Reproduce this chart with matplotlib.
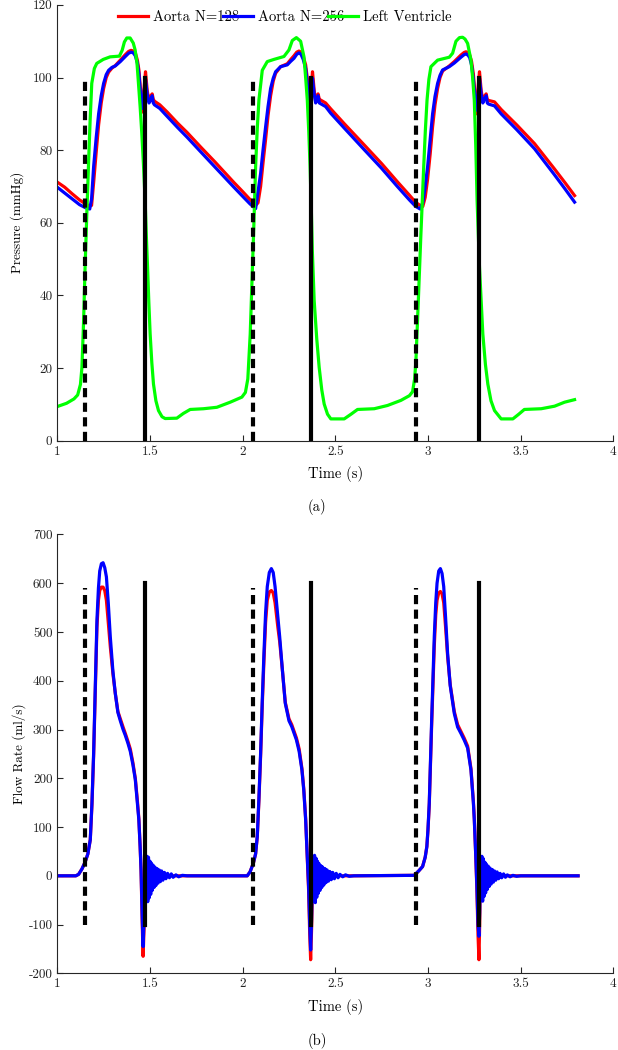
import matplotlib
matplotlib.use("Agg")
import matplotlib.pyplot as plt
from matplotlib.ticker import FuncFormatter, MultipleLocator

plt.rcParams['font.family'] = ['cmr10', 'DejaVu Serif']
plt.rcParams['mathtext.fontset'] = 'cm'
plt.rcParams['axes.unicode_minus'] = False
plt.rcParams['axes.formatter.use_mathtext'] = True

# ---- pressure data ----
t_ao = [1.00, 1.04, 1.08, 1.12, 1.15, 1.175, 1.185, 1.196, 1.21, 1.223, 1.237, 1.25,
        1.264, 1.277, 1.295, 1.313, 1.34, 1.367, 1.385, 1.398, 1.41, 1.421, 1.432,
        1.44, 1.452, 1.46, 1.468, 1.476, 1.485, 1.495, 1.505, 1.512, 1.518, 1.524,
        1.553, 1.593, 1.65, 1.70, 1.773, 1.85, 1.953, 2.00, 2.04, 2.07,
        2.083, 2.097, 2.11, 2.124, 2.137, 2.151, 2.165, 2.178, 2.205, 2.241, 2.26,
        2.277, 2.292, 2.304, 2.315, 2.327, 2.34, 2.352, 2.362, 2.37, 2.377, 2.386,
        2.394, 2.401, 2.407, 2.414, 2.421, 2.448, 2.475, 2.55, 2.655, 2.75, 2.835,
        2.90, 2.934, 2.958,
        2.972, 2.985, 2.998, 3.012, 3.025, 3.038, 3.052, 3.065, 3.079, 3.115, 3.142,
        3.178, 3.195, 3.205, 3.215, 3.225, 3.235, 3.245, 3.256, 3.264, 3.271, 3.278,
        3.287, 3.296, 3.304, 3.314, 3.32, 3.327, 3.359, 3.395, 3.48, 3.575, 3.68,
        3.74, 3.791]
p_n256 = [69.8, 68.2, 66.6, 65.0, 64.2, 63.8, 66.5, 75.4, 83.5, 90.0, 95.0, 98.4,
          100.8, 102.0, 102.8, 103.2, 104.4, 105.8, 106.7, 107.0, 106.8, 106.0, 104.0,
          101.2, 93.8, 91.5, 96.0, 99.5, 95.5, 93.0, 94.0, 95.0, 93.0, 92.5,
          91.5, 89.3, 86.2, 83.6, 79.6, 75.4, 69.8, 67.3, 65.2, 63.9,
          68.5, 73.6, 80.0, 86.4, 92.0, 97.0, 99.8, 101.6, 103.0, 103.5, 104.5,
          105.3, 106.4, 106.8, 106.4, 105.0, 102.5, 97.0, 92.0, 95.5, 99.8, 95.5,
          93.0, 94.0, 95.0, 93.0, 92.8, 92.0, 90.2, 86.0, 80.2, 75.0, 70.0,
          66.3, 64.5, 63.8,
          65.5, 70.0, 75.4, 83.0, 90.0, 94.8, 98.4, 100.6, 102.1, 103.0, 104.0,
          105.6, 106.3, 106.5, 106.2, 105.5, 103.5, 99.5, 93.0, 91.0, 96.0, 99.8,
          95.5, 93.0, 94.0, 95.0, 93.0, 92.7, 92.2, 90.0, 85.6, 80.4, 73.4,
          69.3, 65.7]
p_n128 = [71.2, 69.8, 68.0, 66.3, 65.3, 64.6, 64.8, 71.0, 79.5, 87.0, 93.0, 97.0,
          100.0, 101.5, 102.6, 103.3, 104.8, 106.3, 107.2, 107.5, 107.3, 106.8, 104.8,
          102.2, 95.0, 90.5, 97.0, 101.6, 96.5, 93.5, 95.0, 95.5, 94.0, 93.5,
          92.5, 90.5, 87.4, 84.9, 80.9, 76.8, 71.1, 68.6, 66.4, 64.8,
          65.5, 70.0, 76.5, 83.0, 89.5, 95.0, 99.0, 101.2, 103.0, 103.8, 105.0,
          106.0, 107.0, 107.3, 107.0, 105.8, 103.5, 98.5, 91.0, 97.0, 101.6, 96.5,
          93.5, 94.8, 95.5, 94.0, 93.8, 93.0, 91.4, 87.2, 81.5, 76.3, 71.3,
          67.6, 65.6, 64.8,
          64.5, 67.0, 72.0, 79.0, 86.5, 92.5, 97.0, 100.0, 101.8, 103.2, 104.4,
          106.2, 106.9, 107.1, 106.9, 106.2, 104.5, 101.0, 94.0, 90.0, 97.5, 101.6,
          96.5, 93.5, 94.8, 95.5, 94.0, 93.7, 93.3, 91.2, 86.9, 81.8, 75.0,
          71.0, 67.5]

t_lv = [1.00, 1.05, 1.09, 1.11, 1.125, 1.133, 1.142, 1.15, 1.159, 1.168, 1.177, 1.186,
        1.20, 1.213, 1.248, 1.285, 1.335, 1.35, 1.362, 1.375, 1.393, 1.41, 1.42, 1.43,
        1.438, 1.447, 1.456, 1.465, 1.474, 1.48, 1.487, 1.494, 1.501, 1.51, 1.519,
        1.532, 1.546, 1.565, 1.582, 1.645, 1.68, 1.717, 1.789, 1.861, 1.933, 1.996,
        2.015, 2.028, 2.041, 2.053, 2.061, 2.07, 2.079, 2.088, 2.106, 2.133, 2.169,
        2.223, 2.25, 2.268, 2.29, 2.313, 2.331, 2.34, 2.349, 2.357, 2.364, 2.371,
        2.376, 2.386, 2.40, 2.413, 2.427, 2.44, 2.458, 2.476, 2.548, 2.585, 2.62,
        2.71, 2.782, 2.854, 2.90, 2.917, 2.928, 2.935, 2.948, 2.962, 2.977, 2.986,
        2.995, 3.005, 3.016, 3.052, 3.115, 3.133, 3.151, 3.17, 3.187, 3.20, 3.214,
        3.232, 3.241, 3.25, 3.258, 3.265, 3.278, 3.296, 3.31, 3.323, 3.34, 3.359,
        3.395, 3.458, 3.49, 3.52, 3.611, 3.683, 3.737, 3.791]
p_lv = [9.4, 10.3, 11.5, 12.6, 15.5, 20.2, 33.0, 47.8, 62.0, 75.4, 88.0, 98.4,
        102.5, 103.9, 105.0, 105.7, 105.9, 107.5, 109.8, 110.9, 110.9, 109.5, 107.6, 104.0,
        98.4, 92.0, 84.6, 76.0, 66.2, 57.0, 47.8, 38.0, 29.4, 21.5, 15.6,
        11.0, 8.3, 6.6, 6.1, 6.2, 7.5, 8.6, 8.8, 9.2, 10.6, 12.0,
        13.3, 17.0, 29.4, 47.8, 60.0, 75.4, 86.0, 93.8, 102.0, 104.4, 105.0,
        105.8, 107.6, 110.2, 111.0, 110.0, 105.7, 100.0, 93.8, 85.0, 75.4, 63.0,
        52.4, 38.6, 28.0, 20.2, 14.0, 10.1, 7.3, 6.0, 6.0, 7.3, 8.6,
        8.8, 9.7, 11.1, 12.4, 13.5, 17.0, 22.0, 38.6, 57.0, 75.4, 85.5,
        93.8, 99.5, 103.0, 104.8, 105.6, 106.7, 110.0, 111.0, 111.1, 110.6, 109.4,
        104.8, 100.0, 93.8, 81.0, 66.2, 47.8, 29.4, 21.0, 15.6, 11.0, 8.3,
        6.0, 6.0, 7.3, 8.6, 8.8, 9.5, 10.6, 11.3]

# ---- flow data ----
t_q = [1.00, 1.10, 1.115, 1.133, 1.15, 1.165, 1.178, 1.187, 1.196, 1.205, 1.214, 1.222,
       1.229, 1.238, 1.247, 1.256, 1.265, 1.275, 1.286, 1.30, 1.313, 1.327, 1.34, 1.355,
       1.367, 1.381, 1.394, 1.408, 1.421, 1.432, 1.44, 1.447, 1.452, 1.458, 1.463, 1.468,
       1.472, 1.476, 1.48, 1.484, 1.488, 1.492, 1.496, 1.50, 1.504, 1.508, 1.512, 1.517,
       1.522, 1.527, 1.532, 1.538, 1.544, 1.55, 1.556, 1.563, 1.57, 1.578, 1.586, 1.595,
       1.605, 1.615, 1.625, 1.64, 1.655, 1.675, 1.70,
       2.025, 2.04, 2.058, 2.07, 2.079, 2.088, 2.097, 2.106, 2.115, 2.124, 2.133, 2.144,
       2.155, 2.165, 2.175, 2.19, 2.20, 2.215, 2.23, 2.25, 2.265, 2.29, 2.305, 2.32,
       2.33, 2.34, 2.35, 2.356, 2.362, 2.367, 2.372, 2.376, 2.38, 2.384, 2.388, 2.392,
       2.396, 2.40, 2.404, 2.408, 2.412, 2.417, 2.422, 2.427, 2.432, 2.438, 2.444, 2.45,
       2.456, 2.463, 2.47, 2.478, 2.486, 2.495, 2.505, 2.515, 2.525, 2.54, 2.555, 2.575,
       2.60,
       2.926, 2.95, 2.971, 2.985, 2.994, 3.00, 3.007, 3.02, 3.034, 3.042, 3.049, 3.058,
       3.067, 3.076, 3.085, 3.095, 3.106, 3.12, 3.142, 3.16, 3.178, 3.196, 3.214, 3.232,
       3.245, 3.25, 3.258, 3.264, 3.27, 3.275, 3.279, 3.283, 3.287, 3.291, 3.295, 3.299,
       3.303, 3.307, 3.311, 3.315, 3.32, 3.325, 3.33, 3.335, 3.341, 3.347, 3.353, 3.359,
       3.366, 3.373, 3.381, 3.389, 3.398, 3.408, 3.418, 3.428, 3.443, 3.458, 3.478, 3.50,
       3.81]
q_n256 = [0, 0, 3, 14, 28, 45, 74, 149, 251, 388, 525, 590,
          625, 640, 642, 632, 613, 560, 490, 420, 374, 335, 318, 300,
          288, 272, 255, 228, 197, 150, 115, 60, 12, -80, -145, -90,
          -20, 35, -50, 40, -53, 38, -45, 30, -38, 26, -30, 22,
          -24, 18, -20, 15, -15, 12, -12, 10, -9, 7, -6, 5,
          -4, 4, -3, 2, -2, 1, 0,
          0, 8, 26, 45, 81, 160, 251, 360, 456, 540, 593, 622,
          630, 622, 593, 530, 490, 420, 354, 318, 306, 279, 255, 217,
          175, 115, 30, -22, -100, -152, -90, -20, 38, -48, 42, -55,
          36, -44, 30, -36, 25, -30, 21, -24, 18, -19, 15, -14,
          12, -11, 9, -8, 7, -6, 5, -4, 3, -2, 2, -1,
          0,
          1, 10, 19, 38, 60, 95, 149, 320, 490, 560, 600, 625,
          630, 620, 593, 530, 456, 390, 333, 305, 292, 278, 262, 217,
          150, 115, 40, -22, -100, -124, -75, 30, -45, 40, -52, 35,
          -42, 28, -35, 24, -28, 20, -22, 16, -17, 13, -13, 10,
          -9, 8, -6, 5, -4, 4, -3, 2, -2, 1, -1, 0,
          0]
q_n128 = [0, 0, 3, 14, 28, 45, 74, 145, 245, 380, 510, 565,
          585, 592, 592, 585, 565, 520, 470, 415, 374, 337, 322, 305,
          292, 276, 260, 232, 200, 155, 118, 60, 10, -95, -165, -110,
          -40, 10, -20, 15, -20, 12, -15, 10, -12, 8, -10, 6,
          -8, 5, -6, 4, -4, 3, -3, 2, -2, 1, -1, 1,
          0, 0, 0, 0, 0, 0, 0,
          0, 8, 26, 45, 80, 155, 245, 350, 440, 520, 565, 582,
          585, 580, 560, 510, 480, 420, 356, 322, 310, 283, 260, 220,
          178, 118, 28, -30, -120, -172, -110, -40, 12, -22, 15, -20,
          12, -15, 10, -12, 8, -10, 6, -8, 5, -6, 4, -4,
          3, -3, 2, -2, 1, -1, 1, 0, 0, 0, 0, 0,
          0,
          1, 10, 19, 38, 60, 93, 145, 310, 470, 535, 565, 580,
          583, 578, 560, 510, 450, 392, 337, 310, 296, 282, 266, 220,
          153, 118, 40, -30, -120, -172, -100, 20, -50, 15, -30, 12,
          -18, 10, -14, 8, -10, 6, -8, 5, -6, 4, -4, 3,
          -3, 2, -2, 1, -1, 1, 0, 0, 0, 0, 0, 0,
          0]

# valve event times (dashed = opening, solid = closure)
t_open = [1.148, 2.054, 2.933]
t_close = [1.473, 2.371, 3.276]

x_ticks = [1, 1.5, 2, 2.5, 3, 3.5, 4]

fig = plt.figure(figsize=(6.18, 10.5), dpi=100)
ax1 = fig.add_axes([0.0927, 0.5803, 0.8997, 0.415])
ax2 = fig.add_axes([0.0927, 0.0730, 0.8997, 0.418])

lw = 2.3
ax1.plot(t_ao, p_n128, color='#ff0000', lw=lw, label='Aorta N=128')
ax1.plot(t_ao, p_n256, color='#0000ff', lw=lw, label='Aorta N=256')
ax1.plot(t_lv, p_lv, color='#00ff00', lw=lw, label='Left Ventricle')
for t in t_open:
    ax1.plot([t, t], [0, 100], color='black', lw=3, dashes=(2.2, 1.3))
for t in t_close:
    ax1.plot([t, t], [0, 100], color='black', lw=3)

ax2.plot(t_q, q_n128, color='#ff0000', lw=lw)
ax2.plot(t_q, q_n256, color='#0000ff', lw=lw)
for t in t_open:
    ax2.plot([t, t], [-100, 590], color='black', lw=3, dashes=(2.2, 1.3))
for t in t_close:
    ax2.plot([t, t], [-100, 600], color='black', lw=3)

fmt = FuncFormatter(lambda v, p: '%g' % v)
for ax in (ax1, ax2):
    ax.set_xlim(1, 4)
    ax.set_xticks(x_ticks)
    ax.xaxis.set_major_formatter(fmt)
    ax.yaxis.set_major_formatter(fmt)
    ax.spines['top'].set_visible(False)
    ax.spines['right'].set_visible(False)
    for s in ('left', 'bottom'):
        ax.spines[s].set_color('#262626')
        ax.spines[s].set_linewidth(0.8)
    ax.tick_params(direction='in', length=4, width=0.8, colors='#262626',
                   labelsize=9.5, labelcolor='#222222')
    ax.set_xlabel('Time (s)', fontsize=10.5, labelpad=6)

ax1.set_ylim(0, 120)
ax1.yaxis.set_major_locator(MultipleLocator(20))
ax1.set_ylabel('Pressure (mmHg)', fontsize=9.5, labelpad=6)
ax2.set_ylim(-200, 700)
ax2.yaxis.set_major_locator(MultipleLocator(100))
ax2.set_ylabel('Flow Rate (ml/s)', fontsize=9.5, labelpad=2)

ax1.legend(loc='center left', bbox_to_anchor=(0.109, 0.972), ncol=3, frameon=False,
           fontsize=10.5, handlelength=2.05, handletextpad=0.35, columnspacing=-1.1,
           borderpad=0, borderaxespad=0)

fig.text(0.513, 0.517, '(a)', ha='center', va='center', fontsize=10.5)
fig.text(0.513, 0.009, '(b)', ha='center', va='center', fontsize=10.5)

fig.savefig('out.png', dpi=100)
